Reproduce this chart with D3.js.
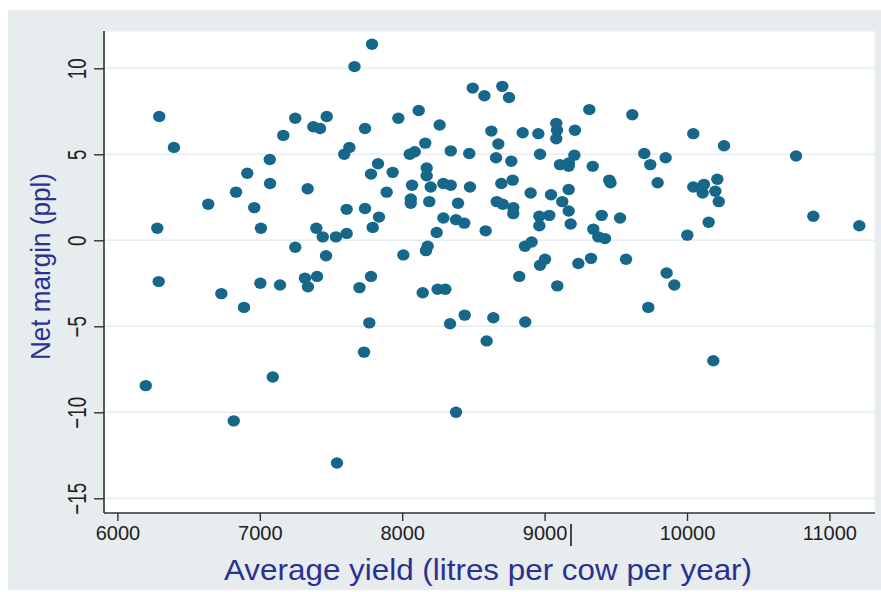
<!DOCTYPE html>
<html>
<head>
<meta charset="utf-8">
<script src="https://cdn.jsdelivr.net/npm/d3@7"></script>
<style>
  html, body { margin: 0; padding: 0; background: #ffffff; }
  svg { display: block; }
</style>
</head>
<body>
<svg id="chart" width="881" height="592"></svg>
<script>
// Average yield per farm (litres per cow per year)
const yieldLitres = [
  7665, 6294, 6397, 7249, 7376, 7423, 7470, 7165, 7070, 6912,
  7072, 6833, 6961, 6638, 7336, 7629, 7593, 7610, 6280, 7008,
  7397, 7442, 7535, 7610, 7249, 7465, 7739,
  6290, 6730, 6889, 7004, 7142, 7317, 7338, 7402, 7700, 7732,
  6199, 7091, 6817, 7542,
  7788, 8495, 8577, 8703, 8750, 7973, 8116, 8263, 9314, 8626,
  8846, 8956, 9082, 9087, 9082, 9213, 8162, 8053, 8088, 8341,
  8471, 8675, 8659, 8766, 8968, 9209, 9171, 9108, 9169, 9338,
  7830, 7781, 7933, 8172, 8172, 8069, 8200, 8289, 8341, 8476,
  8696, 8776, 7891, 8060, 8060, 8190, 8392, 8664, 8706, 8780,
  8780, 8902, 9045, 9169, 9124, 9169, 7739, 7837, 7793, 8289,
  8378, 8436, 8242, 8586, 8963, 9033, 8963, 9183, 9342, 9377,
  9424, 8862, 8909, 8008, 8167, 8179, 9003, 8968, 9237, 9326,
  7781, 8144, 8249, 8303, 8822, 9089, 7769, 8336, 8439, 8640,
  8864, 8593, 8378,
  9616, 10044, 10260, 10766, 9700, 9850, 9742, 9454, 9463, 9794,
  10044, 10119, 10110, 10199, 10213, 10223, 9401, 9530, 10152, 10002,
  10887, 11210, 9572, 9857, 9911, 9728, 10185
];

// Net margin per farm (pence per litre)
const netMargin = [
  10.1, 7.2, 5.4, 7.1, 6.6, 6.5, 7.2, 6.1, 4.7, 3.9,
  3.3, 2.8, 1.9, 2.1, 3.0, 5.4, 5.0, 1.8, 0.7, 0.7,
  0.7, 0.2, 0.2, 0.4, -0.4, -0.9, 6.5,
  -2.4, -3.1, -3.9, -2.5, -2.6, -2.2, -2.7, -2.1, -2.75, -6.5,
  -8.45, -7.95, -10.5, -12.95,
  11.4, 8.85, 8.4, 8.95, 8.3, 7.1, 7.55, 6.7, 7.6, 6.35,
  6.25, 6.2, 6.8, 6.4, 5.9, 6.4, 5.65, 5.0, 5.15, 5.2,
  5.05, 5.6, 4.8, 4.6, 5.0, 4.95, 4.5, 4.4, 4.3, 4.3,
  4.45, 3.85, 3.95, 4.2, 3.75, 3.2, 3.1, 3.3, 3.2, 3.1,
  3.3, 3.5, 2.8, 2.4, 2.15, 2.25, 2.15, 2.25, 2.1, 1.9,
  1.55, 2.75, 2.65, 2.95, 2.25, 1.7, 1.85, 1.35, 0.75, 1.3,
  1.2, 1.0, 0.45, 0.55, 1.4, 1.45, 0.85, 0.95, 0.65, 0.2,
  0.1, -0.35, -0.1, -0.85, -0.6, -0.35, -1.1, -1.45, -1.35, -1.05,
  -2.1, -3.05, -2.85, -2.85, -2.1, -2.65, -4.8, -4.85, -4.35, -4.5,
  -4.75, -5.85, -10.0,
  7.3, 6.2, 5.5, 4.9, 5.05, 4.8, 4.4, 3.5, 3.35, 3.35,
  3.1, 3.25, 2.75, 2.85, 3.55, 2.25, 1.45, 1.3, 1.05, 0.3,
  1.4, 0.85, -1.1, -1.9, -2.6, -3.9, -7.0
];

const xTicks = [6000, 7000, 8000, 9000, 10000, 11000];
const yTicks = [-15, -10, -5, 0, 5, 10];
const xTitle = "Average yield (litres per cow per year)";
const yTitle = "Net margin (ppl)";

const svg = d3.select("#chart");

// frame geometry
const outer = { left: 8, top: 10 };
const plot = { left: 104, top: 31, right: 875, bottom: 513 };

const x = d3.scaleLinear().domain([6000, 11000]).range([117.4, 829.4]);
const y = d3.scaleLinear().domain([-15, 10]).range([498.3, 68.3]);

// graph background
svg.append("rect")
  .attr("x", outer.left).attr("y", outer.top)
  .attr("width", 881 - outer.left).attr("height", 590 - outer.top)
  .attr("fill", "#e7ecef");

// plot region
svg.append("rect")
  .attr("x", plot.left).attr("y", plot.top)
  .attr("width", plot.right - plot.left).attr("height", plot.bottom - plot.top)
  .attr("fill", "#ffffff")
  .attr("stroke", "#eef2f4").attr("stroke-width", 1.5);

// horizontal grid lines
svg.append("g")
  .selectAll("line")
  .data(yTicks)
  .join("line")
  .attr("x1", plot.left).attr("x2", plot.right)
  .attr("y1", d => y(d)).attr("y2", d => y(d))
  .attr("stroke", "#e6ecf0").attr("stroke-width", 1.6);

// points
svg.append("g")
  .selectAll("ellipse")
  .data(d3.range(yieldLitres.length))
  .join("ellipse")
  .attr("cx", i => x(yieldLitres[i]))
  .attr("cy", i => y(netMargin[i]))
  .attr("rx", 6.2).attr("ry", 5.7)
  .attr("fill", "#17678b");

// x axis
const xAxis = svg.append("g")
  .attr("transform", `translate(0,${plot.bottom})`)
  .call(d3.axisBottom(x).tickValues(xTicks).tickFormat(d3.format("d")).tickSize(8).tickSizeOuter(0));
xAxis.select(".domain").remove();
xAxis.append("line")
  .attr("x1", plot.left).attr("x2", plot.right)
  .attr("stroke", "#333").attr("stroke-width", 1.6);
xAxis.selectAll(".tick line").attr("stroke", "#333").attr("stroke-width", 1.4);
xAxis.selectAll(".tick text")
  .attr("y", 26.5)
  .attr("dy", null)
  .attr("fill", "#222")
  .style("font-family", "'Liberation Sans', Arial, sans-serif")
  .style("font-size", "20px");

// y axis
const yAxis = svg.append("g")
  .attr("transform", `translate(${plot.left},0)`)
  .call(d3.axisLeft(y).tickValues(yTicks).tickFormat(d => d < 0 ? "\u2212" + Math.abs(d) : String(d)).tickSize(10).tickSizeOuter(0));
yAxis.select(".domain").remove();
yAxis.append("line")
  .attr("y1", plot.top).attr("y2", plot.bottom)
  .attr("stroke", "#333").attr("stroke-width", 1.6);
yAxis.selectAll(".tick line").attr("stroke", "#333").attr("stroke-width", 1.4);
yAxis.selectAll(".tick text")
  .attr("x", null).attr("dy", null)
  .attr("text-anchor", "middle")
  .attr("transform", "translate(-18,0) rotate(-90) scale(0.72,1)")
  .attr("fill", "#222")
  .style("font-family", "'Liberation Sans', Arial, sans-serif")
  .style("font-size", "26px");

// separator stroke next to the 9000 label
svg.append("line")
  .attr("x1", 571).attr("x2", 571)
  .attr("y1", 524).attr("y2", 546)
  .attr("stroke", "#111").attr("stroke-width", 1.5);

// axis titles
svg.append("text")
  .attr("x", 488).attr("y", 580)
  .attr("text-anchor", "middle")
  .attr("textLength", 528).attr("lengthAdjust", "spacingAndGlyphs")
  .attr("fill", "#2c3190")
  .style("font-family", "'Liberation Sans', Arial, sans-serif")
  .style("font-size", "29px")
  .text(xTitle);

svg.append("text")
  .attr("transform", "translate(50,266.5) rotate(-90)")
  .attr("text-anchor", "middle")
  .attr("textLength", 187).attr("lengthAdjust", "spacingAndGlyphs")
  .attr("fill", "#2c3190")
  .style("font-family", "'Liberation Sans', Arial, sans-serif")
  .style("font-size", "28px")
  .text(yTitle);
</script>
</body>
</html>
